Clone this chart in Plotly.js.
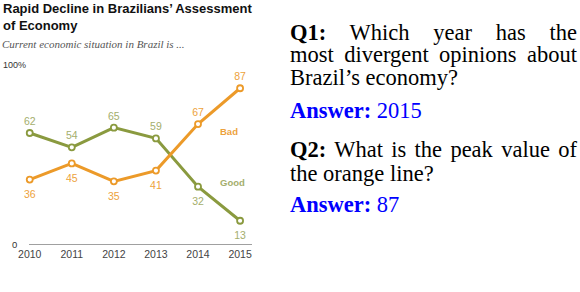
<!DOCTYPE html>
<html>
<head>
<meta charset="utf-8">
<script src="https://cdn.plot.ly/plotly-3.0.1.min.js"></script>
<style>
  html, body { margin:0; padding:0; background:#fff; }
  body { width:580px; height:292px; overflow:hidden; position:relative; }
  #chart { position:absolute; left:0; top:0; width:260px; height:261px; overflow:hidden; }
  .qa { position:absolute; left:290px; width:287px; font-family:"Liberation Serif","Times New Roman",serif;
        font-size:22.5px; color:#000; }
  .qa b { font-weight:bold; }
  .jl { text-align:justify; text-align-last:justify; white-space:nowrap; }
  .ans { color:#0000ff; text-align:left; }
  #cap { position:absolute; left:31px; width:500px; top:290px; font-family:"Liberation Serif",serif;
         font-size:20px; line-height:20px; text-align:justify; text-align-last:justify; color:#000; white-space:nowrap; }
</style>
</head>
<body>
<div id="chart"></div>
<div class="qa" id="q1" style="top:21.75px; line-height:22.7px;">
  <div class="jl"><b>Q1:</b> Which year has the</div>
  <div class="jl">most divergent opinions about</div>
  <div>Brazil’s economy?</div>
</div>
<div class="qa ans" style="top:100.35px; line-height:22.7px;"><b>Answer:</b> 2015</div>
<div class="qa" id="q2" style="top:138.1px; line-height:24px;">
  <div class="jl"><b>Q2:</b> What is the peak value of</div>
  <div>the orange line?</div>
</div>
<div class="qa ans" style="top:194px; line-height:22.7px;"><b>Answer:</b> 87</div>
<div id="cap">Figure 1: Sample questions and answers</div>
<script>
const years = [2010, 2011, 2012, 2013, 2014, 2015];
const yearLabels = ["2010", "2011", "2012", "2013", "2014", "2015"];
const bad  = [36, 45, 35, 41, 67, 87];
const good = [62, 54, 65, 59, 32, 13];

const badColor = "#ec9a29", goodColor = "#8a9a3f";
const badText = "#eda23c", goodText = "#a4ae6c";

// label placement (style only): good labels above until 2013, bad labels below until 2013
const goodPos = ["top center","top center","top center","top center","bottom center","bottom center"];
const badPos  = ["bottom center","bottom center","bottom center","bottom center","top center","top center"];
const padSize = p => p.startsWith("top") ? 7 : 15;

function lineTrace(y, name, color) {
  return {
    x: years, y: y, name: name, type: "scatter", mode: "lines+markers",
    line: { color: color, width: 3 },
    marker: { color: "#ffffff", size: 6, line: { color: color, width: 1.8 } },
    cliponaxis: false, hoverinfo: "none"
  };
}
function labelTrace(y, pos, tcolor) {
  return {
    x: years, y: y, type: "scatter", mode: "markers+text",
    marker: { size: pos.map(padSize), opacity: 0 },
    text: y.map(String), textposition: pos,
    textfont: { family: "Liberation Sans, Arial, sans-serif", size: 10.5, color: tcolor },
    cliponaxis: false, hoverinfo: "none", showlegend: false
  };
}

const traces = [
  lineTrace(good, "Good", goodColor),
  lineTrace(bad, "Bad", badColor),
  labelTrace(good, goodPos, goodText),
  labelTrace(bad, badPos, badText)
];

const layout = {
  width: 260, height: 262,
  margin: { l: 29, r: 8, t: 0, b: 18, pad: 0 },
  paper_bgcolor: "#ffffff", plot_bgcolor: "#ffffff",
  showlegend: false,
  xaxis: {
    range: [2009.983, 2015.283], tickvals: years, ticktext: yearLabels,
    showgrid: false, zeroline: false, showline: true, linecolor: "#a0a0a0", linewidth: 1,
    ticks: "", tickfont: { family: "Liberation Sans, Arial, sans-serif", size: 10.5, color: "#444" },
    fixedrange: true
  },
  yaxis: {
    range: [0, 136.3], showgrid: false, zeroline: false, showline: false,
    showticklabels: false, ticks: "", fixedrange: true
  },
  annotations: [
    { xref: "paper", yref: "paper", x: -0.125, y: 1.005, xanchor: "left", yanchor: "top", align: "left",
      showarrow: false,
      text: "<b>Rapid Decline in Brazilians’ Assessment<br>of Economy</b>",
      font: { family: "Liberation Sans, Arial, sans-serif", size: 13, color: "#111" } },
    { xref: "paper", yref: "paper", x: -0.128, y: (244 - 36) / 244, xanchor: "left", yanchor: "top",
      showarrow: false, text: "<i>Current economic situation in Brazil is ...</i>",
      font: { family: "Liberation Serif, Georgia, serif", size: 11, color: "#555" } },
    { xref: "paper", yref: "y", x: -0.125, y: 100, xanchor: "left", yanchor: "middle",
      showarrow: false, text: "100%",
      font: { family: "Liberation Sans, Arial, sans-serif", size: 9, color: "#333" } },
    { xref: "paper", yref: "y", x: -0.045, y: 0, xanchor: "right", yanchor: "middle",
      showarrow: false, text: "0",
      font: { family: "Liberation Sans, Arial, sans-serif", size: 9.5, color: "#333" } },
    { xref: "x", yref: "y", x: 2014.48, y: 62.7, xanchor: "left", yanchor: "middle",
      showarrow: false, text: "<b>Bad</b>",
      font: { family: "Liberation Sans, Arial, sans-serif", size: 9.5, color: badText } },
    { xref: "x", yref: "y", x: 2014.48, y: 34.6, xanchor: "left", yanchor: "middle",
      showarrow: false, text: "<b>Good</b>",
      font: { family: "Liberation Sans, Arial, sans-serif", size: 9.5, color: goodText } }
  ]
};

Plotly.newPlot("chart", traces, layout, { displayModeBar: false, staticPlot: true });
</script>
</body>
</html>
